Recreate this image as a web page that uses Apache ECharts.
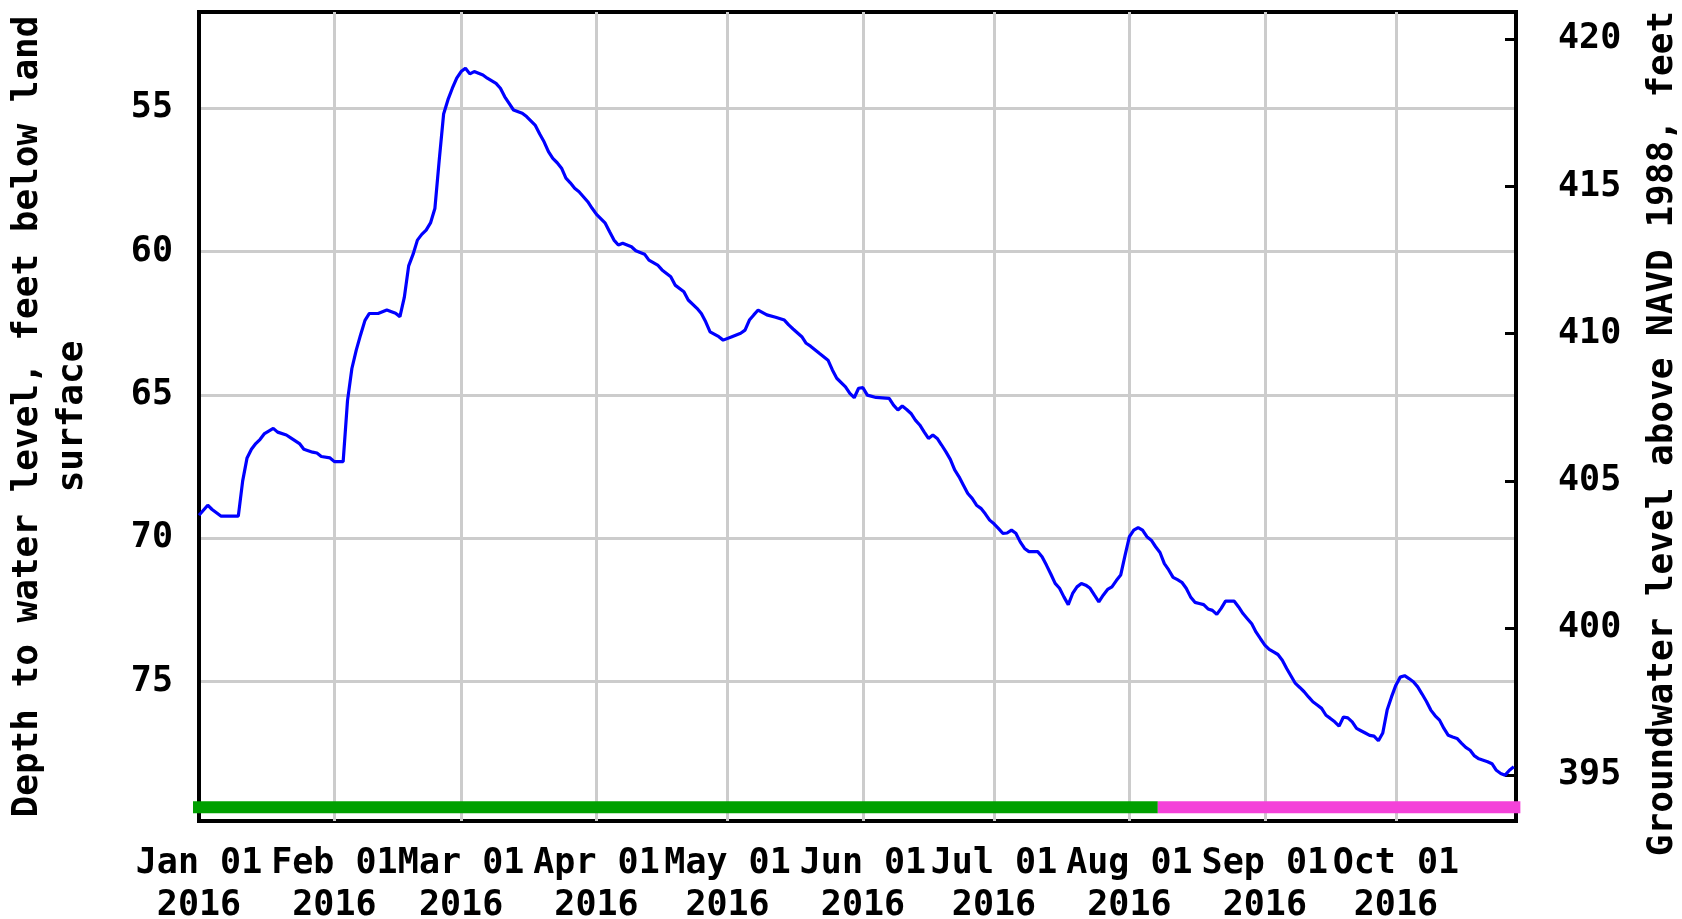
<!DOCTYPE html>
<html>
<head>
<meta charset="utf-8">
<script src="https://cdn.jsdelivr.net/npm/echarts@6/dist/echarts.min.js"></script>
<style>
html,body{margin:0;padding:0;background:#fff;}
#chart{width:1682px;height:919px;}
</style>
</head>
<body>
<div id="chart"></div>
<script>
// ---- Data ----
const dates = [
'2016-01-01','2016-01-03','2016-01-04','2016-01-06','2016-01-10','2016-01-11','2016-01-12','2016-01-13','2016-01-14','2016-01-15','2016-01-16','2016-01-18','2016-01-19','2016-01-21','2016-01-22','2016-01-24','2016-01-25','2016-01-27','2016-01-28','2016-01-29','2016-01-31',
'2016-02-01','2016-02-03','2016-02-04','2016-02-05','2016-02-06','2016-02-07','2016-02-08','2016-02-09','2016-02-11','2016-02-13','2016-02-15','2016-02-16','2016-02-17','2016-02-18','2016-02-19','2016-02-20','2016-02-21','2016-02-22','2016-02-23','2016-02-24','2016-02-25','2016-02-26','2016-02-27','2016-02-28','2016-02-29',
'2016-03-01','2016-03-02','2016-03-03','2016-03-04','2016-03-05','2016-03-06','2016-03-07','2016-03-09','2016-03-10','2016-03-11','2016-03-12','2016-03-13','2016-03-15','2016-03-16','2016-03-18','2016-03-19','2016-03-20','2016-03-21','2016-03-22','2016-03-23','2016-03-24','2016-03-25','2016-03-26','2016-03-27','2016-03-28','2016-03-30','2016-03-31',
'2016-04-01','2016-04-03','2016-04-04','2016-04-05','2016-04-06','2016-04-07','2016-04-09','2016-04-10','2016-04-12','2016-04-13','2016-04-15','2016-04-16','2016-04-18','2016-04-19','2016-04-21','2016-04-22','2016-04-24','2016-04-25','2016-04-26','2016-04-27','2016-04-29','2016-04-30',
'2016-05-02','2016-05-04','2016-05-05','2016-05-06','2016-05-07','2016-05-08','2016-05-10','2016-05-12','2016-05-14','2016-05-15','2016-05-16','2016-05-18','2016-05-19','2016-05-20','2016-05-22','2016-05-24','2016-05-25','2016-05-26','2016-05-28','2016-05-29','2016-05-30','2016-05-31',
'2016-06-01','2016-06-02','2016-06-04','2016-06-07','2016-06-08','2016-06-09','2016-06-10','2016-06-11','2016-06-12','2016-06-13','2016-06-14','2016-06-15','2016-06-16','2016-06-17','2016-06-18','2016-06-19','2016-06-20','2016-06-21','2016-06-22','2016-06-23','2016-06-24','2016-06-25','2016-06-26','2016-06-27','2016-06-28','2016-06-29','2016-06-30',
'2016-07-01','2016-07-02','2016-07-03','2016-07-04','2016-07-05','2016-07-06','2016-07-07','2016-07-08','2016-07-09','2016-07-11','2016-07-12','2016-07-13','2016-07-14','2016-07-15','2016-07-16','2016-07-17','2016-07-18','2016-07-19','2016-07-20','2016-07-21','2016-07-22','2016-07-23','2016-07-24','2016-07-25','2016-07-26','2016-07-27','2016-07-28','2016-07-29','2016-07-30','2016-07-31',
'2016-08-01','2016-08-02','2016-08-03','2016-08-04','2016-08-05','2016-08-06','2016-08-07','2016-08-08','2016-08-09','2016-08-10','2016-08-11','2016-08-12','2016-08-13','2016-08-14','2016-08-15','2016-08-16','2016-08-17','2016-08-18','2016-08-19','2016-08-20','2016-08-21','2016-08-22','2016-08-23','2016-08-24','2016-08-25','2016-08-26','2016-08-27','2016-08-28','2016-08-29','2016-08-30','2016-08-31',
'2016-09-01','2016-09-02','2016-09-03','2016-09-04','2016-09-05','2016-09-06','2016-09-07','2016-09-08','2016-09-09','2016-09-10','2016-09-11','2016-09-12','2016-09-13','2016-09-14','2016-09-15','2016-09-16','2016-09-17','2016-09-18','2016-09-19','2016-09-20','2016-09-21','2016-09-22','2016-09-23','2016-09-24','2016-09-25','2016-09-26','2016-09-27','2016-09-28','2016-09-29','2016-09-30',
'2016-10-01','2016-10-02','2016-10-03','2016-10-04','2016-10-05','2016-10-06','2016-10-07','2016-10-08','2016-10-09','2016-10-10','2016-10-11','2016-10-12','2016-10-13','2016-10-14','2016-10-15','2016-10-16','2016-10-17','2016-10-18','2016-10-19','2016-10-20','2016-10-21','2016-10-22','2016-10-23','2016-10-24','2016-10-25','2016-10-26','2016-10-27','2016-10-28'
];
const depthFt = [
69.2,68.85,69.0,69.23,69.23,68.0,67.2,66.9,66.7,66.55,66.35,66.17,66.3,66.4,66.5,66.7,66.9,67.0,67.03,67.15,67.2,
67.33,67.33,65.2,64.08,63.44,62.9,62.4,62.16,62.16,62.04,62.15,62.27,61.6,60.5,60.1,59.6,59.4,59.25,59.0,58.5,56.8,55.2,54.7,54.3,53.95,
53.72,53.6,53.8,53.72,53.78,53.84,53.95,54.13,54.3,54.6,54.83,55.06,55.17,55.29,55.6,55.9,56.17,56.51,56.75,56.9,57.09,57.44,57.6,57.79,57.91,58.26,58.49,
58.7,59.01,59.31,59.6,59.77,59.71,59.83,59.97,60.09,60.3,60.47,60.64,60.88,61.17,61.4,61.69,61.98,62.16,62.45,62.8,62.97,63.09,
62.97,62.85,62.74,62.39,62.21,62.04,62.21,62.29,62.39,62.56,62.7,62.97,63.2,63.3,63.55,63.79,64.13,64.42,64.72,64.95,65.1,64.77,
64.75,65.01,65.09,65.12,65.36,65.53,65.39,65.51,65.65,65.88,66.05,66.29,66.52,66.4,66.52,66.75,66.99,67.25,67.62,67.86,68.15,68.44,68.61,68.85,68.96,69.15,69.37,
69.5,69.66,69.83,69.82,69.72,69.83,70.13,70.36,70.47,70.47,70.65,70.94,71.25,71.58,71.75,72.05,72.32,71.93,71.7,71.58,71.64,71.75,71.99,72.22,71.99,71.79,71.7,71.48,71.29,70.6,
69.95,69.72,69.63,69.72,69.95,70.07,70.3,70.5,70.89,71.11,71.37,71.45,71.54,71.75,72.05,72.24,72.28,72.32,72.47,72.52,72.66,72.45,72.2,72.2,72.2,72.4,72.63,72.81,72.99,73.28,73.51,
73.73,73.88,73.97,74.06,74.26,74.55,74.81,75.07,75.21,75.36,75.54,75.71,75.82,75.94,76.18,76.29,76.41,76.56,76.24,76.27,76.41,76.64,76.72,76.8,76.88,76.91,77.07,76.8,76.0,75.54,
75.13,74.85,74.8,74.9,75.01,75.19,75.44,75.7,76.0,76.2,76.35,76.64,76.88,76.94,76.99,77.15,77.3,77.4,77.6,77.7,77.75,77.8,77.87,78.1,78.21,78.27,78.1,77.98
];

// x axis: month ticks and their labels
const monthTicks = ['2016-01-01','2016-02-01','2016-03-01','2016-04-01','2016-05-01','2016-06-01','2016-07-01','2016-08-01','2016-09-01','2016-10-01'];
const monthTickLabels = ['Jan 01\n2016','Feb 01\n2016','Mar 01\n2016','Apr 01\n2016','May 01\n2016','Jun 01\n2016','Jul 01\n2016','Aug 01\n2016','Sep 01\n2016','Oct 01\n2016'];
const xStart = '2016-01-01';
const xEnd = '2016-10-28 12:00';

// y axes
const depthTicks = [55, 60, 65, 70, 75];
const depthMin = 51.64, depthMax = 79.87;
const elevTicks = [395, 400, 405, 410, 415, 420];
const elevMin = 393.44, elevMax = 420.93;

// data-approval status bar (approved then provisional)
const statusLevel = 79.39;
const approvedPeriod = ['2015-12-30 08:00', '2016-08-07 12:00'];
const provisionalPeriod = ['2016-08-07 12:00', '2016-10-29 12:00'];

// ---- Chart ----
const FONT = "'DejaVu Sans Mono', monospace";
const T = s => echarts.time.parse(s).getTime();
const tickTimes = monthTicks.map(T);
function xLabel(v) {
  let best = -1, bd = Infinity;
  tickTimes.forEach((t, i) => { const d = Math.abs(t - v); if (d < bd) { bd = d; best = i; } });
  return bd < 3600000 ? monthTickLabels[best] : '';
}

const chart = echarts.init(document.getElementById('chart'), null, {renderer: 'canvas'});
chart.setOption({
  animation: false,
  backgroundColor: '#ffffff',
  grid: {
    left: 199, right: 166, top: 12, bottom: 98,
    outerBoundsMode: 'none', containLabel: false,
    show: true, borderColor: '#000', borderWidth: 4, backgroundColor: 'transparent'
  },
  xAxis: {
    type: 'value',
    min: T(xStart), max: T(xEnd),
    axisLine: {show: false},
    axisTick: {show: false, customValues: tickTimes.slice(1)},
    splitLine: {show: true, lineStyle: {color: '#cccccc', width: 3}},
    axisLabel: {
      customValues: tickTimes,
      formatter: xLabel,
      color: '#000', fontFamily: FONT, fontWeight: 'bold', fontSize: 35,
      lineHeight: 42, margin: 22
    }
  },
  yAxis: [{
    type: 'value', position: 'left', inverse: true,
    min: depthMin, max: depthMax,
    name: 'Depth to water level, feet below land\nsurface',
    nameLocation: 'middle', nameGap: 104,
    nameTextStyle: {color: '#000', fontFamily: FONT, fontWeight: 'bold', fontSize: 36, lineHeight: 45, align: 'center'},
    axisLine: {show: true, lineStyle: {color: '#000', width: 4}},
    axisTick: {show: false, customValues: depthTicks},
    splitLine: {show: true, lineStyle: {color: '#cccccc', width: 3}},
    axisLabel: {customValues: depthTicks, color: '#000', fontFamily: FONT, fontWeight: 'bold', fontSize: 35, margin: 26, padding: [9, 0, 0, 0]}
  }, {
    type: 'value', position: 'right',
    min: elevMin, max: elevMax,
    name: 'Groundwater level above NAVD 1988, feet',
    nameLocation: 'middle', nameGap: 129,
    nameTextStyle: {color: '#000', fontFamily: FONT, fontWeight: 'bold', fontSize: 36, lineHeight: 36, padding: [0, 34, 0, 0]},
    axisLine: {show: true, lineStyle: {color: '#000', width: 4}},
    axisTick: {show: true, inside: true, length: 11, customValues: elevTicks, lineStyle: {color: '#000', width: 3}},
    splitLine: {show: false},
    axisLabel: {customValues: elevTicks, color: '#000', fontFamily: FONT, fontWeight: 'bold', fontSize: 35, margin: 42, padding: [10, 0, 0, 0]}
  }],
  series: [{
    name: 'Depth to water level',
    type: 'line',
    yAxisIndex: 0,
    data: dates.map((d, i) => [T(d), depthFt[i]]),
    showSymbol: false, symbol: 'none',
    lineStyle: {color: '#0000ff', width: 3.2},
    z: 5
  }, {
    name: 'Approved',
    type: 'line', yAxisIndex: 0, clip: false,
    data: approvedPeriod.map(d => [T(d), statusLevel]),
    showSymbol: false, symbol: 'none',
    lineStyle: {color: '#00a000', width: 12, cap: 'butt'},
    z: 6
  }, {
    name: 'Provisional',
    type: 'line', yAxisIndex: 0, clip: false,
    data: provisionalPeriod.map(d => [T(d), statusLevel]),
    showSymbol: false, symbol: 'none',
    lineStyle: {color: '#f442d9', width: 12, cap: 'butt'},
    z: 6
  }]
});
</script>
</body>
</html>
